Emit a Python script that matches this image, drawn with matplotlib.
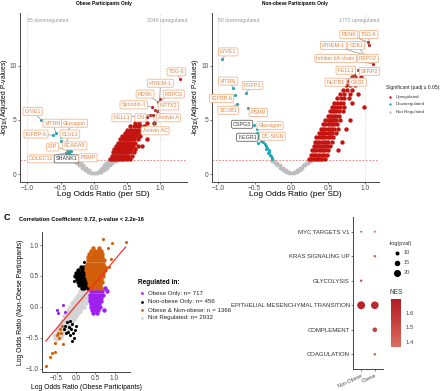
import matplotlib.pyplot as plt
import numpy as np
from matplotlib.colors import LinearSegmentedColormap, Normalize
from matplotlib.cm import ScalarMappable

plt.rcParams['font.family'] = ['Liberation Sans', 'DejaVu Sans']
plt.rcParams['mathtext.fontset'] = 'custom'
plt.rcParams['mathtext.rm'] = 'Liberation Sans'
plt.rcParams['mathtext.it'] = 'Liberation Sans:italic'

# ---------------- panel A: obese only (volcano) ----------------
# rows of points: y value -> list of x values
ob_up_rows = {
    1.4: [0.25, 0.28, 0.31, 0.34, 0.37, 0.40, 0.43, 0.46, 0.50, 0.55],
    1.7: [0.27, 0.30, 0.33, 0.36, 0.39, 0.42, 0.45, 0.48, 0.52, 0.57],
    2.0: [0.29, 0.32, 0.35, 0.38, 0.41, 0.44, 0.47, 0.50, 0.54, 0.60],
    2.3: [0.31, 0.34, 0.37, 0.40, 0.43, 0.46, 0.49, 0.52, 0.56, 0.62],
    2.6: [0.34, 0.37, 0.40, 0.43, 0.46, 0.49, 0.52, 0.55, 0.59, 0.66, 0.72],
    2.9: [0.37, 0.40, 0.43, 0.46, 0.49, 0.52, 0.55, 0.58, 0.62],
    3.2: [0.40, 0.43, 0.46, 0.49, 0.52, 0.55, 0.58, 0.61, 0.66, 0.80],
    3.5: [0.43, 0.46, 0.49, 0.52, 0.55, 0.58, 0.61, 0.64, 0.70],
    3.8: [0.47, 0.50, 0.53, 0.56, 0.59, 0.62, 0.65, 0.68],
    4.1: [0.50, 0.54, 0.58, 0.62, 0.66, 0.70, 0.74],
    4.4: [0.55, 0.60, 0.65, 0.70, 0.76],
    4.7: [0.62, 0.68, 0.80, 0.90],
}
ob_up_x = [0.74, 0.84, 0.89, 0.95, 0.87, 0.96, 0.99, 1.29, 0.65, 0.92, 0.80]
ob_up_y = [5.2, 5.5, 5.5, 5.8, 6.2, 6.7, 6.9, 8.8, 5.0, 5.9, 5.3]
ob_down_x = [-0.79, -0.62, -0.57, -0.50, -0.50, -0.44, -0.41, -0.40, -0.38, -0.37,
             -0.35, -0.34, -0.33, -0.32, -0.36, -0.30, -0.42, -0.39, -0.45, -0.31]
ob_down_y = [5.0, 3.6, 3.8, 3.1, 3.4, 2.6, 2.3, 2.0, 2.2, 1.9,
             2.1, 1.8, 1.6, 1.5, 1.7, 1.4, 1.9, 1.6, 2.4, 1.35]
ob_ns_rows = {
    0.05: [-0.04, -0.01, 0.02, 0.05],
    0.2: [-0.09, -0.06, 0.06, 0.09, 0.11],
    0.4: [-0.14, -0.11, -0.08, 0.09, 0.12, 0.15],
    0.6: [-0.18, -0.15, -0.12, 0.12, 0.15, 0.18, 0.20],
    0.8: [-0.22, -0.19, -0.16, 0.15, 0.18, 0.21, 0.24],
    1.0: [-0.26, -0.23, -0.20, 0.18, 0.21, 0.24, 0.27],
    1.2: [-0.30, -0.27, -0.24, 0.21, 0.24, 0.27, 0.30, 0.33],
}
ob_labels = ['TSG-6', 'xTREM-1', 'PENK', 'RSPO2', 'Spondin-1', 'NPTX2', 'NELL1', 'ON',
             'Activin A', 'Activin AC',
             'LYVE1', 'VITRN', 'Glucagon', 'IGFBP-6', 'CLUL1', 'GIP', 'SCARA5',
             'COLEC12', 'SHANK1', 'PSMP']
ob_lab_x = [1.24, 1.00, 0.77, 1.20, 0.60, 1.12, 0.42, 0.70, 1.12, 0.92,
            -0.92, -0.62, -0.29, -0.87, -0.36, -0.62, -0.29, -0.79, -0.41, -0.09]
ob_lab_y = [9.45, 8.4, 7.4, 7.4, 6.4, 6.3, 5.2, 5.2, 5.2, 4.0,
            5.8, 4.7, 4.7, 3.7, 3.7, 2.5, 2.6, 1.4, 1.4, 1.5]
ob_pt_x = [1.29, 0.99, 0.96, 0.96, 0.87, 0.95, 0.84, 0.89, 0.92, 0.90,
           -0.79, -0.57, -0.50, -0.62, -0.44, -0.41, -0.38, -0.40, -0.35, -0.32]
ob_pt_y = [8.8, 6.9, 6.7, 6.7, 6.2, 5.8, 5.5, 5.5, 5.9, 5.3,
           5.0, 3.8, 3.4, 3.6, 2.6, 2.3, 2.2, 2.0, 1.6, 1.5]
ob_dark = ['SHANK1']

# ---------------- panel B: non-obese only (volcano) ----------------
no_up_rows = {
    1.4: [0.24, 0.27, 0.30, 0.33, 0.36, 0.39, 0.42, 0.46],
    1.8: [0.26, 0.29, 0.32, 0.35, 0.38, 0.41, 0.44, 0.48],
    2.2: [0.28, 0.31, 0.34, 0.37, 0.40, 0.43, 0.46, 0.50, 0.63],
    2.6: [0.30, 0.33, 0.36, 0.39, 0.42, 0.45, 0.48, 0.52],
    3.0: [0.32, 0.35, 0.38, 0.41, 0.44, 0.47, 0.50, 0.55, 0.69],
    3.4: [0.34, 0.37, 0.40, 0.43, 0.46, 0.49, 0.52, 0.57],
    3.8: [0.37, 0.40, 0.43, 0.46, 0.49, 0.52, 0.55, 0.60],
    4.2: [0.40, 0.43, 0.46, 0.49, 0.52, 0.55, 0.58, 0.63, 0.74],
    4.6: [0.43, 0.46, 0.49, 0.52, 0.55, 0.58, 0.62],
    5.0: [0.46, 0.49, 0.52, 0.55, 0.58, 0.61, 0.66, 0.80],
    5.4: [0.49, 0.52, 0.55, 0.58, 0.61, 0.64],
    5.8: [0.52, 0.55, 0.58, 0.61, 0.65, 0.70],
    6.2: [0.55, 0.58, 0.62, 0.66, 0.72, 0.99],
    6.6: [0.58, 0.62, 0.66, 0.70, 0.82],
    7.0: [0.62, 0.67, 0.72, 0.78],
    7.4: [0.66, 0.72, 0.80, 0.90],
    7.8: [0.70, 0.76, 0.82],
    8.2: [0.74, 0.80, 0.86],
    8.6: [0.78, 0.83, 0.88],
    9.0: [0.82, 0.86, 0.95],
}
no_up_x = [1.04, 1.06, 1.00, 1.11, 0.85, 0.90]
no_up_y = [12.2, 11.9, 11.0, 10.2, 9.3, 9.6]
no_down_x = [-0.95, -0.79, -0.77, -0.74, -0.62, -0.59, -0.51, -0.47, -0.47, -0.46,
             -0.44, -0.42, -0.38, -0.36, -0.34, -0.33, -0.31, -0.30, -0.29, -0.28,
             -0.27, -0.26, -0.32, -0.35, -0.40, -0.45]
no_down_y = [10.6, 8.0, 7.3, 6.5, 7.5, 6.1, 4.5, 4.2, 3.8, 3.5,
             3.3, 3.1, 3.0, 2.8, 2.6, 2.4, 2.2, 2.0, 1.8, 1.7,
             1.5, 1.4, 1.9, 2.3, 3.6, 2.9]
no_ns_rows = {
    0.05: [-0.03, 0.0, 0.03],
    0.2: [-0.07, -0.04, 0.04, 0.07],
    0.4: [-0.11, -0.08, 0.08, 0.11],
    0.6: [-0.15, -0.12, 0.12, 0.15],
    0.8: [-0.19, -0.16, 0.16, 0.19],
    1.0: [-0.23, -0.20, 0.20, 0.23],
    1.2: [-0.27, -0.24, 0.24, 0.27],
}
no_labels = ['PENK', 'TSG-6', 'xTREM-1', 'CD81', 'Inhibin bA chain', 'RSPO2', 'NELL1',
             'SFRP2', 'NUCB1', 'GAS1',
             'LYVE1', 'VITRN', 'IGFBP-6', 'SCUB1', 'FGFP1', 'PSMP', 'CSPG3',
             'Glucagon', 'NEGR1', 'DC-SIGN']
no_lab_x = [0.78, 1.05, 0.57, 0.88, 0.60, 1.04, 0.74, 1.06, 0.60, 0.90,
            -0.86, -0.86, -0.95, -0.86, -0.53, -0.45, -0.67, -0.29, -0.60, -0.26]
no_lab_y = [12.9, 12.9, 11.9, 11.9, 10.7, 10.7, 9.6, 9.5, 8.5, 8.5,
            11.3, 8.6, 7.0, 5.9, 8.2, 5.7, 4.6, 4.5, 3.4, 3.5]
no_pt_x = [1.04, 1.06, 1.00, 1.00, 1.11, 1.11, 0.85, 0.90, 0.86, 0.86,
           -0.95, -0.79, -0.77, -0.74, -0.62, -0.59, -0.51, -0.47, -0.46, -0.44]
no_pt_y = [12.2, 11.9, 11.0, 11.0, 10.2, 10.2, 9.3, 9.6, 9.0, 9.0,
           10.6, 8.0, 7.3, 6.5, 7.5, 6.1, 4.5, 4.2, 3.5, 3.3]
no_dark = ['CSPG3', 'NEGR1']

# ---------------- panel C: obese vs non-obese ----------------
ns_rows_c = {  # x -> y values
    -0.55: [-0.45, -0.50], -0.50: [-0.38, -0.45, -0.52], -0.45: [-0.33, -0.40, -0.47],
    -0.40: [-0.28, -0.35, -0.42, -0.48], -0.35: [-0.22, -0.30, -0.37, -0.44],
    -0.30: [-0.15, -0.23, -0.30, -0.38], -0.25: [-0.10, -0.18, -0.25, -0.32, -0.40],
    -0.20: [-0.05, -0.12, -0.20, -0.27, -0.35], -0.15: [0.0, -0.08, -0.15, -0.22, -0.30],
    -0.10: [0.06, -0.02, -0.10, -0.17, -0.24], -0.05: [0.10, 0.03, -0.05, -0.12, -0.20],
    0.0: [0.15, 0.07, 0.0, -0.08, -0.15], 0.05: [0.20, 0.12, 0.05, -0.03, -0.10],
    0.10: [0.25, 0.17, 0.10, 0.02, -0.06], 0.15: [0.28, 0.20, 0.13, 0.05, -0.02],
    0.20: [0.30, 0.23, 0.16, 0.08, 0.0], 0.25: [0.30, 0.22, 0.15, 0.07],
    0.30: [0.28, 0.20, 0.12], 0.35: [0.30, 0.22], 0.40: [0.32],
}
ob_only_rows = {  # y -> x values
    0.30: [0.42, 0.50, 0.60, 0.75], 0.25: [0.38, 0.45, 0.52, 0.60, 0.68, 0.80],
    0.20: [0.36, 0.43, 0.50, 0.57, 0.64, 0.70], 0.15: [0.36, 0.43, 0.50, 0.57, 0.64],
    0.10: [0.37, 0.44, 0.51, 0.58, 0.65], 0.05: [0.38, 0.45, 0.52, 0.60],
    0.0: [0.40, 0.47, 0.55, 0.62], -0.05: [0.42, 0.50, 0.58, 0.72], -0.10: [0.45, 0.55],
}
ob_only_x = [-0.33, -0.46, -0.50, -0.28]
ob_only_y = [0.03, -0.10, -0.05, -0.08]
nob_only_rows = {  # y -> x values
    0.65: [0.12, 0.20], 0.60: [0.05, 0.15, 0.22],
    0.55: [0.0, 0.08, 0.14, 0.20, 0.26], 0.50: [-0.02, 0.05, 0.10, 0.15, 0.20, 0.25, 0.30],
    0.45: [0.02, 0.07, 0.12, 0.17, 0.22, 0.27, 0.32], 0.40: [0.05, 0.10, 0.15, 0.20, 0.25, 0.30],
    0.35: [0.08, 0.14, 0.20, 0.26, 0.32], 0.30: [0.15, 0.22, 0.30],
}
nob_only_x = [0.20, -0.05, -0.28, -0.22, -0.18, -0.15, -0.12, -0.10, -0.20, -0.08,
              -0.05, -0.15, -0.25, -0.02, -0.10, -0.30, 0.0]
nob_only_y = [0.72, 0.42, -0.30, -0.25, -0.32, -0.22, -0.35, -0.28, -0.40, -0.42,
              -0.50, -0.45, -0.42, -0.38, -0.55, -0.35, -0.30]
both_rows = {  # y -> x values
    0.95: [0.45, 0.60], 0.90: [0.40, 0.50, 0.58, 0.65],
    0.85: [0.35, 0.45, 0.52, 0.60, 0.68], 0.80: [0.32, 0.40, 0.47, 0.54, 0.61, 0.68],
    0.75: [0.30, 0.37, 0.44, 0.51, 0.58, 0.65, 0.72], 0.70: [0.28, 0.35, 0.42, 0.49, 0.56, 0.63, 0.70],
    0.65: [0.27, 0.34, 0.41, 0.48, 0.55, 0.62, 0.69, 0.75],
    0.60: [0.27, 0.34, 0.41, 0.48, 0.55, 0.62, 0.69, 0.76],
    0.55: [0.28, 0.35, 0.42, 0.49, 0.56, 0.63, 0.70], 0.50: [0.29, 0.36, 0.43, 0.50, 0.57, 0.64, 0.71],
    0.45: [0.31, 0.38, 0.45, 0.52, 0.59, 0.66], 0.40: [0.33, 0.40, 0.47, 0.54, 0.61, 0.68],
    0.35: [0.35, 0.42, 0.49, 0.56, 0.63], 0.30: [0.40, 0.48, 0.56, 0.66],
}
both_x = [0.70, 1.29, 0.93, 0.83, 0.90, 0.85, -0.36, -0.41, -0.46, -0.44, -0.50,
          -0.55, -0.33, -0.55, -0.62, -0.68, -0.78, -0.40]
both_y = [1.10, 1.05, 1.03, 0.95, 0.78, 0.65, -0.30, -0.36, -0.42, -0.50, -0.46,
          -0.58, -0.60, -0.72, -0.75, -0.80, -0.95, -0.42]
fit_coef = [0.023, 0.734]  # intercept, slope
fit_x = [-0.78, 1.29]
corr_title = 'Correlation Coefficient: 0.72, p-value < 2.2e-16'
reg_labels = ['Obese Only: n= 717', 'Non-obese Only: n= 456',
              'Obese & Non-obese: n = 1366', 'Not Regulated: n= 2932']

# ---------------- panel D: hallmark pathways ----------------
pathways = ['COAGULATION', 'COMPLEMENT', 'EPITHELIAL MESENCHYMAL TRANSITION',
            'GLYCOLYSIS', 'KRAS SIGNALING UP', 'MYC TARGETS V1']
groups = ['Non-Obese', 'Obese']
dot_group = ['Obese', 'Obese', 'Non-Obese', 'Obese', 'Non-Obese', 'Obese', 'Non-Obese', 'Obese']
dot_path = ['COAGULATION', 'COMPLEMENT', 'EPITHELIAL MESENCHYMAL TRANSITION',
            'EPITHELIAL MESENCHYMAL TRANSITION', 'GLYCOLYSIS', 'KRAS SIGNALING UP',
            'MYC TARGETS V1', 'MYC TARGETS V1']
dot_logp = [5, 12, 23, 22, 4.5, 5, 3.5, 3.5]
dot_nes = [1.45, 1.55, 1.66, 1.63, 1.50, 1.45, 1.42, 1.40]
size_leg = [10, 15, 20]
nes_ticks = [1.4, 1.5, 1.6]

RED = '#C4140F'
CYAN = '#1FA5B3'
GREY = '#BDBDBD'
W, H = 440, 391
CLOUD = 10   # marker size for dense clouds
SPARSE = 5


def expand(rows, by_y=True):
    xs, ys = [], []
    for k, vals in rows.items():
        for v in vals:
            if by_y:
                xs.append(v); ys.append(k)
            else:
                xs.append(k); ys.append(v)
    return xs, ys


def box(px, py, pw, ph):
    return [px / W, 1 - (py + ph) / H, pw / W, ph / H]


def style_ax(ax, fs=5.0):
    for s in ['top', 'right']:
        ax.spines[s].set_visible(False)
    for s in ['left', 'bottom']:
        ax.spines[s].set_color('#444444')
        ax.spines[s].set_linewidth(0.7)
    ax.tick_params(length=1.5, width=0.5, color='#444444', labelsize=fs,
                   labelcolor='#4d4d4d', pad=0.8)


def volcano(ax, up_rows, upx, upy, dx, dy, ns_rows, labels, lx, ly, ptx, pty, dark,
            xlim, ndown, nup, ylab_x):
    gx, gy = expand(ns_rows)
    rx, ry = expand(up_rows)
    ax.scatter(gx, gy, s=8, color=GREY, lw=0, zorder=2)
    ax.scatter(rx, ry, s=CLOUD, color=RED, lw=0, zorder=2)
    ax.scatter(upx, upy, s=SPARSE, color=RED, lw=0, zorder=2)
    ax.scatter(dx, dy, s=SPARSE, color=CYAN, lw=0, zorder=2)
    ax.axhline(1.3, color='#F26B6B', lw=0.6, ls=(0, (2, 2)), zorder=1)
    for v in [-1, 1]:
        ax.axvline(v, color='#D0D0D0', lw=0.6, ls=(0, (1, 1.5)), zorder=1)
    for t, a, b, c, d in zip(labels, lx, ly, ptx, pty):
        is_dark = t in dark
        ax.plot([c, a], [d, b], color='#8f8f8f', lw=0.5, zorder=3)
        ax.text(a, b, t, fontsize=3.9, ha='center', va='center', zorder=4,
                color='#3a3a3a' if is_dark else '#E3823F',
                bbox=dict(boxstyle='round,pad=0.28,rounding_size=0.25', fc='white',
                          ec='#666666' if is_dark else '#F2B48C', lw=0.6))
    ax.text(-1.0, 14.2, ndown, fontsize=3.7, color='#9a9a9a', ha='left', va='center')
    ax.text(xlim[1], 14.2, nup, fontsize=3.7, color='#9a9a9a', ha='right', va='center')
    ax.set_xlim(*xlim)
    ax.set_ylim(-0.74, 14.9)
    ax.set_xticks([-1.0, -0.5, 0.0, 0.5, 1.0])
    ax.set_yticks([0, 5, 10])
    style_ax(ax, fs=4.8)
    ax.set_xlabel('Log Odds Ratio (per SD)', fontsize=6.0)
    ax.set_ylabel('-log$_{10}$(Adjusted P-values)', fontsize=4.9)
    ax.xaxis.set_label_coords(0.5, -0.055)
    ax.yaxis.set_label_coords(ylab_x, 0.5)


fig = plt.figure(figsize=(4.4, 3.91), dpi=100)

axA = fig.add_axes(box(20, 13, 167, 169))
volcano(axA, ob_up_rows, ob_up_x, ob_up_y, ob_down_x, ob_down_y, ob_ns_rows,
        ob_labels, ob_lab_x, ob_lab_y, ob_pt_x, ob_pt_y, ob_dark,
        (-1.11, 1.40), '35 downregulated', '2048 upregulated', -0.058)

axB = fig.add_axes(box(212, 13, 167, 169))
volcano(axB, no_up_rows, no_up_x, no_up_y, no_down_x, no_down_y, no_ns_rows,
        no_labels, no_lab_x, no_lab_y, no_pt_x, no_pt_y, no_dark,
        (-1.08, 1.19), '50 downregulated', '1772 upregulated', -0.068)

# panel C
axC = fig.add_axes(box(42, 232, 88, 140))
gx, gy = expand(ns_rows_c, by_y=False)
ox, oy = expand(ob_only_rows)
kx, ky = expand(nob_only_rows)
bx, by = expand(both_rows)
axC.scatter(gx, gy, s=CLOUD, color='#D3D3D3', lw=0, zorder=2)
axC.scatter(kx, ky, s=CLOUD, color='black', lw=0, zorder=3)
axC.scatter(nob_only_x, nob_only_y, s=SPARSE, color='black', lw=0, zorder=3)
axC.scatter(ox, oy, s=CLOUD, color='#A020F0', lw=0, zorder=3)
axC.scatter(ob_only_x, ob_only_y, s=SPARSE, color='#A020F0', lw=0, zorder=3)
axC.scatter(bx, by, s=CLOUD, color='#D2600A', lw=0, zorder=3)
axC.scatter(both_x, both_y, s=SPARSE, color='#D2600A', lw=0, zorder=3)
fx = np.array(fit_x)
axC.plot(fx, fit_coef[0] + fit_coef[1] * fx, color='#FF2020', lw=0.8, zorder=4)
axC.set_xlim(-0.88, 1.40)
axC.set_ylim(-1.05, 1.21)
axC.set_xticks([-0.5, 0.0, 0.5, 1.0])
axC.set_yticks([-1.0, -0.5, 0.0, 0.5, 1.0])
style_ax(axC, fs=4.8)
axC.set_xlabel('Log Odds Ratio (Obese Participants)', fontsize=4.9)
axC.set_ylabel('Log Odds Ratio (Non-Obese Participants)', fontsize=4.9)
axC.xaxis.set_label_coords(0.5, -0.085)
axC.yaxis.set_label_coords(-0.2, 0.5)

# panel D
axD = fig.add_axes(box(353, 217, 30, 152))
cmap = LinearSegmentedColormap.from_list('nes', ['#DC6D62', '#B31B1F'])
norm = Normalize(1.367, 1.693)
dxs = [groups.index(g) + 1 for g in dot_group]
dys = [pathways.index(p) + 1 for p in dot_path]


def psize(p):
    return ((0.3 * p + 1) / 1.389) ** 2


axD.scatter(dxs, dys, s=[psize(p) for p in dot_logp], c=dot_nes, cmap=cmap, norm=norm,
            lw=0, zorder=3)
axD.set_xlim(0.4, 2.6)
axD.set_ylim(0.4, 6.6)
axD.set_xticks([1, 2])
axD.set_xticklabels(groups, rotation=25, ha='right', rotation_mode='anchor')
axD.set_yticks(range(1, 7))
axD.set_yticklabels(pathways)
style_ax(axD, fs=4.3)
axD.tick_params(axis='y', labelcolor='#333333')
axD.tick_params(axis='x', labelsize=3.8, pad=1.5)

cax = fig.add_axes(box(391, 299, 10, 48))
cb = fig.colorbar(ScalarMappable(norm=norm, cmap=cmap), cax=cax, ticks=nes_ticks)
cb.outline.set_visible(False)
cax.tick_params(labelsize=4.2, length=2, width=0.5, color='white', pad=1.5,
                labelcolor='#444444')

# overlay for figure-level text and legends (pixel coordinates)
ov = fig.add_axes([0, 0, 1, 1], zorder=10)
ov.set_xlim(0, W)
ov.set_ylim(H, 0)
ov.axis('off')

ov.text(104, 4, 'Obese Participants Only', fontsize=3.4, weight='bold', ha='center', va='center')
ov.text(295, 4, 'Non-obese Participants Only', fontsize=3.4, weight='bold', ha='center', va='center')

ov.text(386, 88, 'Significant (padj \u2264 0.05):', fontsize=3.6, ha='left', va='center', color='#222222')
for yy, col, t in zip([97, 104, 112], [RED, CYAN, GREY],
                      ['Upregulated', 'Downregulated', 'Not Regulated']):
    ov.scatter([390], [yy], s=3, color=col, lw=0)
    ov.text(396, yy, t, fontsize=3.2, ha='left', va='center', color='#333333')

ov.text(7, 218, 'C', fontsize=6.5, weight='bold', ha='center', va='center')
ov.text(19, 219, corr_title, fontsize=4.1, weight='bold', ha='left', va='center')

ov.text(138, 283, 'Regulated in:', fontsize=4.7, weight='bold', ha='left', va='center')
for yy, col, t in zip([293, 302, 310, 318], ['#A020F0', 'black', '#D2600A', '#D3D3D3'], reg_labels):
    ov.scatter([142], [yy], s=4, color=col, lw=0)
    ov.text(148, yy, t, fontsize=4.4, ha='left', va='center', color='#222222')

ov.text(389, 243, '-log(pval)', fontsize=4.0, ha='left', va='center', color='#333333')
for yy, p in zip([253, 263, 273], size_leg):
    ov.scatter([397], [yy], s=psize(p), color='black', lw=0)
    ov.text(404, yy, str(p), fontsize=4.0, ha='left', va='center', color='#444444')
ov.text(390, 293, 'NES', fontsize=4.8, ha='left', va='center', color='#333333')

fig.savefig('out.png', dpi=100)
